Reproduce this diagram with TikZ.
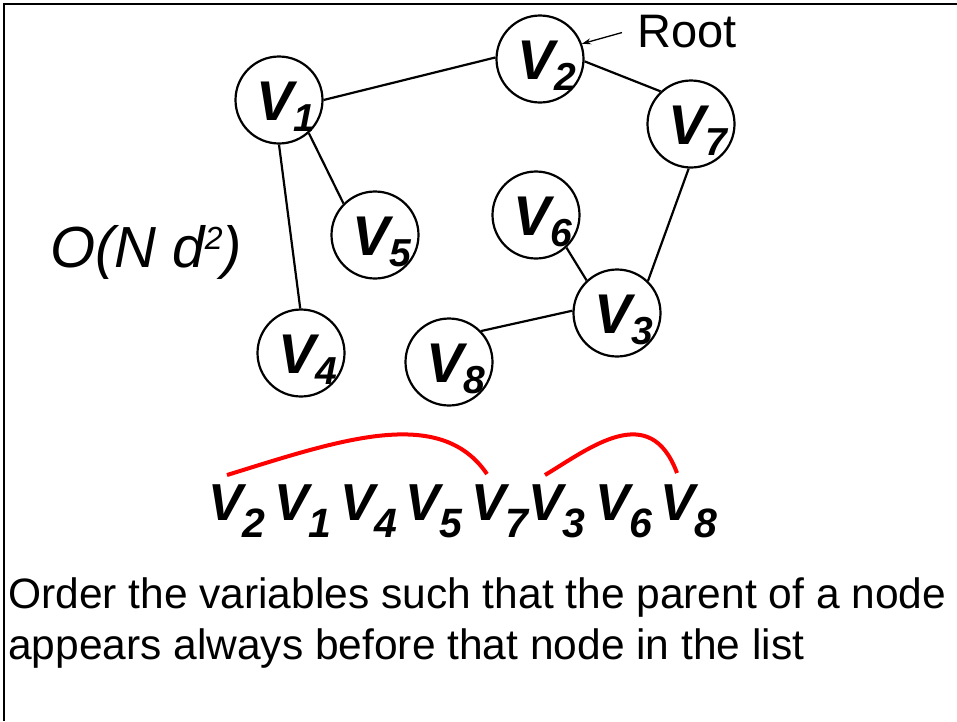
\documentclass[tikz,border=0pt]{standalone}
\usepackage{fontspec}
\setmainfont{Liberation Sans}
\usetikzlibrary{arrows.meta}
\newcommand{\nodelab}[1]{{\fontsize{56}{56}\selectfont\bfseries\itshape V}\raisebox{-11pt}{\fontsize{39}{39}\selectfont\bfseries\itshape #1}}
\newcommand{\listlab}[1]{{\fontsize{52}{52}\selectfont\bfseries\itshape V}\raisebox{-17pt}{\fontsize{41}{41}\selectfont\bfseries\itshape #1}}
\tikzset{
  vnode/.style={draw, circle, line width=2.2pt, minimum size=87pt, inner sep=0pt},
  vtext/.style={anchor=base west, inner sep=0pt},
  edge/.style={line width=2.2pt},
  listitem/.style={anchor=base west, inner sep=0pt},
  redarc/.style={draw=red, line width=4pt},
  frame/.style={line width=2.5pt}
}
\begin{document}
\begin{tikzpicture}[x=1pt,y=-1pt]
\useasboundingbox (0,0) rectangle (957,721);
\draw[frame] (4,721) -- (4,4) -- (957,4);

% graph nodes
\node[vnode] (v1) at (279,100) {};
\node[vnode] (v2) at (540,59) {};
\node[vnode] (v7) at (691,124) {};
\node[vnode] (v5) at (375,235) {};
\node[vnode] (v6) at (536,215) {};
\node[vnode] (v3) at (617,313) {};
\node[vnode] (v4) at (301,353) {};
\node[vnode] (v8) at (449,362) {};
\node[vtext] (v1t) at ([shift={(-23,20)}]v1.center) {\nodelab{1}};
\node[vtext] (v2t) at ([shift={(-23,20)}]v2.center) {\nodelab{2}};
\node[vtext] (v7t) at ([shift={(-23,20)}]v7.center) {\nodelab{7}};
\node[vtext] (v5t) at ([shift={(-23,20)}]v5.center) {\nodelab{5}};
\node[vtext] (v6t) at ([shift={(-23,20)}]v6.center) {\nodelab{6}};
\node[vtext] (v3t) at ([shift={(-23,20)}]v3.center) {\nodelab{3}};
\node[vtext] (v4t) at ([shift={(-23,20)}]v4.center) {\nodelab{4}};
\node[vtext] (v8t) at ([shift={(-23,20)}]v8.center) {\nodelab{8}};

% edges
\draw[edge] (v1.0) -- (v2.178);
\draw[edge] (v2.357) -- (v7.133);
\draw[edge] (v7.267) -- (v3.46);
\draw[edge] (v1.270) -- (v4.91);
\draw[edge] (v1.312) -- (v5.135);
\draw[edge] (v6.313) -- (v3.133);
\draw[edge] (v8.44) -- (v3.177);

% root label
\node[anchor=base west, inner sep=0pt, font=\fontsize{47}{47}\selectfont] (root) at (637,47) {Root};
\draw[line width=1.3pt, -{Stealth[length=9pt,width=6pt]}] ([shift={(-15,1.5)}]root.west) -- (v2.20);

% complexity
\node[anchor=base west, inner sep=0pt, font=\fontsize{58}{58}\selectfont\itshape] (cplx) at (50,267)
  {O(N d\raisebox{18pt}{\fontsize{32}{32}\selectfont 2})};

% ordered list
\node[listitem] (l2) at (208,520) {\listlab{2}};
\node[listitem] (l1) at (274,520) {\listlab{1}};
\node[listitem] (l4) at (340,520) {\listlab{4}};
\node[listitem] (l5) at (405,520) {\listlab{5}};
\node[listitem] (l7) at (471,520) {\listlab{7}};
\node[listitem] (l3) at (528,520) {\listlab{3}};
\node[listitem] (l6) at (595,520) {\listlab{6}};
\node[listitem] (l8) at (660,520) {\listlab{8}};

\draw[redarc] ([shift={(19,-9)}]l2.north west) .. controls (340,440) and (440,405) .. ([shift={(16,-10)}]l7.north west);
\draw[redarc] ([shift={(17,-9)}]l3.north west) .. controls (590,448) and (650,400) .. ([shift={(17,-11)}]l8.north west);

% caption
\node[anchor=base west, inner sep=0pt, font=\fontsize{42.5}{42.5}\selectfont] (cap1) at (8,608)
  {Order the variables such that the parent of a node};
\node[anchor=base west, inner sep=0pt, font=\fontsize{42.5}{42.5}\selectfont] (cap2) at (8,659)
  {appears always before that node in the list};
\end{tikzpicture}
\end{document}
